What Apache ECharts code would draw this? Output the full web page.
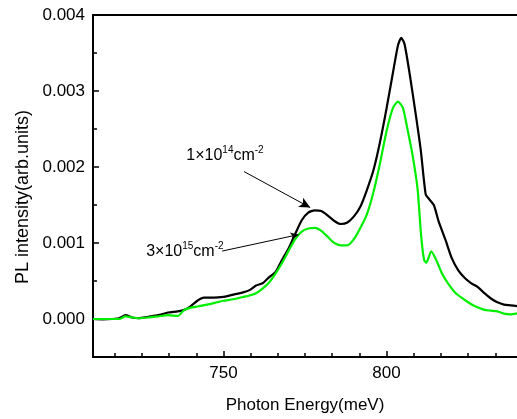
<!DOCTYPE html>
<html>
<head>
<meta charset="utf-8">
<script src="https://cdn.jsdelivr.net/npm/echarts@6/dist/echarts.min.js"></script>
<style>
html,body{margin:0;padding:0;background:#fff;}
#chart{width:517px;height:419px;}
</style>
</head>
<body>
<div id="chart"></div>
<script>
// Photon energy (meV) and PL intensity for the 1e14 cm^-2 sample (black)
const blackEnergy = [710,713,716,718,720,722,724,727,730,733,736,738,740,742,744,747,750,752,754,756,758,760,762,764,766,768,770,772,774,776,778,780,782,784,786,788,790,792,794,796,798,800,802,803.5,804.5,805.5,807,809,810.5,812,813,814.5,816,818,820,822,824,826,828,830,832,834,836,838,840];
const blackIntensity = [0.00000,-0.000005,0.00000,0.00001,0.00005,0.00002,0.00001,0.00003,0.00005,0.000085,0.00010,0.00012,0.00017,0.00024,0.00028,0.00028,0.00029,0.00031,0.00033,0.00035,0.00038,0.00044,0.00047,0.00055,0.00062,0.00078,0.00093,0.00112,0.00130,0.00140,0.00143,0.00142,0.00136,0.00129,0.00125,0.00127,0.00135,0.00148,0.00170,0.00196,0.00233,0.00277,0.00325,0.00360,0.00370,0.00362,0.00325,0.00268,0.00222,0.00164,0.00158,0.00150,0.00128,0.00105,0.00080,0.00064,0.00054,0.00047,0.00042,0.00034,0.00027,0.00022,0.00019,0.00018,0.00017];

// Photon energy (meV) and PL intensity for the 3e15 cm^-2 sample (green)
const greenEnergy = [710,713,716,718,720,722,724,727,730,733,736,738,740,742,745,748,750,753,756,758,760,762,764,766,768,770,772,774,776,778,780,782,784,786,788,790,792,794,796,798,800,802,803.5,805,806.5,808,809.5,810.6,811.5,812.2,813.7,815.2,817,819,821,823,825,827,830,832,834,836,838,840];
const greenIntensity = [0.00000,0.00000,0.00000,0.00000,0.000035,0.00002,0.00001,0.00002,0.000035,0.00005,0.00004,0.00012,0.00015,0.000165,0.00019,0.00022,0.00024,0.00026,0.00029,0.00031,0.00034,0.00040,0.00048,0.00060,0.00074,0.00090,0.00105,0.00115,0.00119,0.00120,0.00116,0.00108,0.00100,0.00097,0.00097,0.00105,0.00120,0.00138,0.00167,0.00205,0.00247,0.00278,0.00286,0.00278,0.00248,0.00215,0.00172,0.00110,0.00078,0.00074,0.00089,0.00078,0.00060,0.00046,0.00035,0.00028,0.00022,0.00017,0.00012,0.00011,0.00010,0.00007,0.00006,0.000075];

// Axis ticks
const xMajorTicks = [750, 800];
const xMinorTicks = [716.667, 725, 733.333, 741.667, 758.333, 766.667, 775, 783.333, 791.667, 808.333, 816.667, 825, 833.333];
const yMajorTicks = [0, 0.001, 0.002, 0.003, 0.004];
const yMinorTicks = [0.0005, 0.0015, 0.0025, 0.0035];

// Annotations (data coordinates)
const label1 = {base: '1×10', exp1: '14', unit: 'cm', exp2: '-2', at: [738.6, 0.00216]};
const arrow1 = [[756.3, 0.00194], [776.6, 0.001466]];
const label2 = {base: '3×10', exp1: '15', unit: 'cm', exp2: '-2', at: [726.3, 0.000894]};
const arrow2 = [[749.6, 0.000894], [773.0, 0.00111]];

const FONT = "'Liberation Sans', Arial, sans-serif";
const zip = (xs, ys) => xs.map((x, i) => [x, ys[i]]);
const richLabel = l => '{base|' + l.base + '}{sup|' + l.exp1 + '}{base|' + l.unit + '}{sup|' + l.exp2 + '}';

const chart = echarts.init(document.getElementById('chart'), null, {renderer: 'canvas'});

const rich = {
  base: {fontSize: 16, color: '#000', fontFamily: FONT, lineHeight: 18, verticalAlign: 'bottom'},
  sup: {fontSize: 10, color: '#000', fontFamily: FONT, lineHeight: 11, verticalAlign: 'bottom', padding: [0, 0, 9, 0]}
};

const xCommon = {type: 'value', min: 710, max: 840, gridIndex: 0, splitLine: {show: false}};
const yCommon = {type: 'value', min: -0.0005, max: 0.004, gridIndex: 0, splitLine: {show: false}};

chart.setOption({
  animation: false,
  backgroundColor: '#fff',
  grid: {left: 93, top: 15, width: 426.4, height: 346, containLabel: false},
  xAxis: [
    Object.assign({}, xCommon, {
      position: 'bottom',
      axisLine: {show: true, onZero: false, lineStyle: {color: '#000', width: 2}},
      axisTick: {show: true, inside: true, length: 6, customValues: xMajorTicks, lineStyle: {color: '#000', width: 1.5}},
      axisLabel: {show: true, customValues: xMajorTicks, color: '#000', fontSize: 17, fontFamily: FONT, margin: 8},
      name: 'Photon Energy(meV)', nameLocation: 'middle', nameGap: 40,
      nameTextStyle: {color: '#000', fontSize: 17, fontFamily: FONT}
    }),
    Object.assign({}, xCommon, {
      position: 'bottom',
      axisLine: {show: false, onZero: false},
      axisTick: {show: true, inside: true, length: 4, customValues: xMinorTicks, lineStyle: {color: '#000', width: 1.5}},
      axisLabel: {show: false}
    }),
    Object.assign({}, xCommon, {
      position: 'top',
      axisLine: {show: true, onZero: false, lineStyle: {color: '#000', width: 2}},
      axisTick: {show: false},
      axisLabel: {show: false}
    })
  ],
  yAxis: [
    Object.assign({}, yCommon, {
      position: 'left',
      axisLine: {show: true, onZero: false, lineStyle: {color: '#000', width: 2}},
      axisTick: {show: true, inside: true, length: 6, customValues: yMajorTicks, lineStyle: {color: '#000', width: 1.5}},
      axisLabel: {show: true, customValues: yMajorTicks, color: '#000', fontSize: 17, fontFamily: FONT, margin: 8,
        formatter: v => v.toFixed(3)},
      name: 'PL intensity(arb.units)', nameLocation: 'middle', nameGap: 60, nameRotate: 90,
      nameTextStyle: {color: '#000', fontSize: 18, fontFamily: FONT, padding: [0, 22, 0, 0]}
    }),
    Object.assign({}, yCommon, {
      position: 'left',
      axisLine: {show: false, onZero: false},
      axisTick: {show: true, inside: true, length: 4, customValues: yMinorTicks, lineStyle: {color: '#000', width: 1.5}},
      axisLabel: {show: false}
    })
  ],
  series: [
    {
      name: '1e14', type: 'line', xAxisIndex: 0, yAxisIndex: 0,
      data: zip(blackEnergy, blackIntensity),
      showSymbol: false, symbol: 'none', smooth: 0.2,
      lineStyle: {color: '#000', width: 2.2},
      markLine: {
        silent: true, symbol: ['none', 'arrow'], symbolSize: [8, 11],
        label: {show: false},
        lineStyle: {color: '#000', width: 1, type: 'solid'},
        data: [[{coord: arrow1[0]}, {coord: arrow1[1]}]]
      },
      markPoint: {
        silent: true, symbol: 'circle', symbolSize: 0,
        data: [{coord: label1.at, value: 1}],
        label: {show: true, position: [0, 0], align: 'left', verticalAlign: 'middle',
          formatter: richLabel(label1), rich: rich}
      }
    },
    {
      name: '3e15', type: 'line', xAxisIndex: 0, yAxisIndex: 0,
      data: zip(greenEnergy, greenIntensity),
      showSymbol: false, symbol: 'none', smooth: 0.2,
      lineStyle: {color: '#00ee00', width: 2.2},
      markLine: {
        silent: true, symbol: ['none', 'arrow'], symbolSize: [6, 8],
        label: {show: false},
        lineStyle: {color: '#000', width: 1, type: 'solid'},
        data: [[{coord: arrow2[0]}, {coord: arrow2[1]}]]
      },
      markPoint: {
        silent: true, symbol: 'circle', symbolSize: 0,
        data: [{coord: label2.at, value: 1}],
        label: {show: true, position: [0, 0], align: 'left', verticalAlign: 'middle',
          formatter: richLabel(label2), rich: rich}
      }
    }
  ]
});
</script>
</body>
</html>
